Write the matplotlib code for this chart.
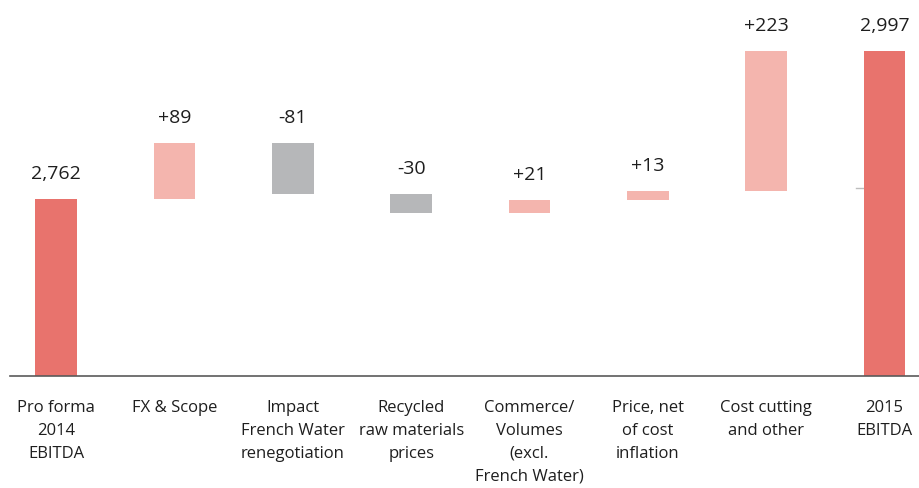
import matplotlib
matplotlib.use("Agg")
import matplotlib.pyplot as plt
import numpy as np

# Data
categories = [
    "Pro forma\n2014\nEBITDA",
    "FX & Scope",
    "Impact\nFrench Water\nrenegotiation",
    "Recycled\nraw materials\nprices",
    "Commerce/\nVolumes\n(excl.\nFrench Water)",
    "Price, net\nof cost\ninflation",
    "Cost cutting\nand other",
    "2015\nEBITDA",
]
start_value = 2762
deltas = [89, -81, -30, 21, 13, 223]
end_value = 2997
ref_level = 2780

# Colours
TOTAL_COLOR = "#E8736D"
UP_COLOR = "#F4B5AE"
DOWN_COLOR = "#B6B7B9"
TEXT_COLOR = "#1E1E1E"
AXIS_COLOR = "#5A5A5A"

plt.rcParams["font.family"] = ["Open Sans", "DejaVu Sans"]

fig = plt.figure(figsize=(9.2, 4.88), dpi=100)
ax = fig.add_axes([10 / 920, (488 - 376) / 488, 910 / 920, 376 / 488])

x = np.arange(len(categories))
width = 0.35

bottoms, heights, colors, labels = [], [], [], []
# opening total
bottoms.append(0); heights.append(start_value); colors.append(TOTAL_COLOR)
labels.append(f"{start_value:,}")
running = start_value
for d in deltas:
    lo = min(running, running + d)
    bottoms.append(lo); heights.append(abs(d))
    colors.append(UP_COLOR if d > 0 else DOWN_COLOR)
    labels.append(f"{d:+d}")
    running += d
# closing total
bottoms.append(0); heights.append(end_value); colors.append(TOTAL_COLOR)
labels.append(f"{end_value:,}")

bars = ax.bar(x, heights, width=width, bottom=bottoms, color=colors,
              edgecolor="none", zorder=2)

for xi, b, h, lab in zip(x, bottoms, heights, labels):
    ax.annotate(lab, xy=(xi, b + h), xytext=(0, 11.5), textcoords="offset points",
                ha="center", va="bottom", fontsize=14, color=TEXT_COLOR)

# short reference tick beside the closing bar
ax.plot([x[-1] - 0.245, x[-1] - width / 2], [ref_level, ref_level],
        color="#BDBDBD", lw=1, zorder=1)

ax.set_xlim(-0.39, len(categories) - 1 + 0.3)
ax.set_ylim(2481, 3078)

for s in ("top", "right", "left"):
    ax.spines[s].set_visible(False)
ax.spines["bottom"].set_color(AXIS_COLOR)
ax.spines["bottom"].set_linewidth(1.2)
ax.set_yticks([])
ax.set_xticks(x)
ax.set_xticklabels(categories, fontsize=12, color=TEXT_COLOR, linespacing=1.58,
                   va="top")
ax.tick_params(axis="x", length=0, pad=17)

fig.savefig("out.png", dpi=100, facecolor="white")
